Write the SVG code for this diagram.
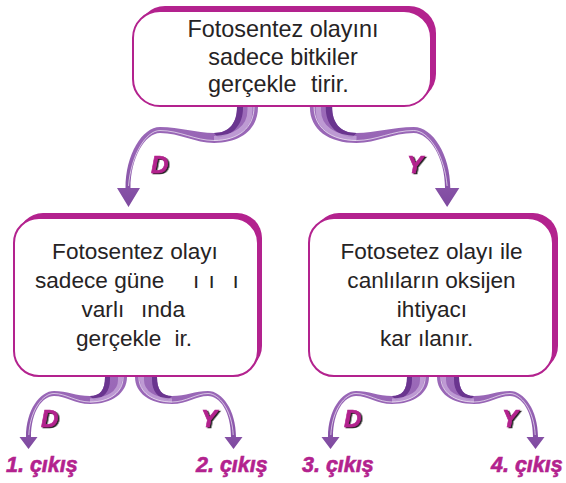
<svg xmlns="http://www.w3.org/2000/svg" width="566" height="483" viewBox="0 0 566 483">
<defs>
<style>
.box{fill:#fff;stroke:#b3228e;stroke-width:2}
.shadow{fill:#b3228e}
.t{font-family:"Liberation Sans",Arial,sans-serif;fill:#262324}
.tt{font-size:23.4px}
.bt{font-size:22.6px}
.lab{font-family:"Liberation Sans",Arial,sans-serif;font-weight:bold;font-style:italic;fill:#b3228e;stroke:#b3228e;stroke-width:0.6}
.dy{font-size:24px;filter:url(#sh)}
.out{font-size:21.5px}
.rib{fill:url(#ribG)}
.dark{fill:#6a358f}
.lite{fill:none;stroke:#c9abdc;opacity:0.75}
.hl{fill:none;stroke:#fff;stroke-width:0.9;opacity:0.7}
</style>
<linearGradient id="ribG" x1="0" y1="0" x2="0" y2="1">
<stop offset="0" stop-color="#9d6cba"/>
<stop offset="0.5" stop-color="#9663b4"/>
<stop offset="1" stop-color="#7e499f"/>
</linearGradient>
<filter id="sh" x="-20%" y="-20%" width="150%" height="150%">
<feDropShadow dx="1.5" dy="1" stdDeviation="0.2" flood-color="#1a1a1a"/>
</filter>
<g id="bigArrow">
<path class="rib" d="M258,100 L258,107 C258,130 240,143 214,143 C195,143 180,133 160,133 C145,133 130.5,158 130.5,188 L140,188 L128.5,207 L117,188 L125.5,188 C125.5,155 142,127 160,127 C180,127 196,133 214,133 C230,133 237,122 237,107 L237,100 Z"/>
<path class="dark" d="M237,100 L243,100 L243,108 C243,124 234,135 218,137.5 L214,133 C230,133 237,122 237,107 Z"/>
<path class="lite" stroke-width="5" d="M250,100 L250,110 C250,128 235,138 214,138.5"/>
<path class="hl" d="M254,100 L254,107 C254,128 238,140.5 214,140.5 C195,140.5 180,130.5 160,130.5 C146,130.5 131,155 128.5,186"/>
</g>
<g id="smallArrow">
<path class="rib" d="M127,370 L127,377 C127,393 112,404 90,404 C75,404 66,396 54,396 C42,396 31,412 31,437 L37.5,437 L28.5,449 L19.5,437 L26,437 C26,410 40,391 54,391 C67,391 76,396 90,396 C100,396 105,390 105,377 L105,370 Z"/>
<path class="dark" d="M105,370 L110,370 L110,380 C110,391 104,398 94,400 L90,396 C100,396 105,390 105,377 Z"/>
<path class="lite" stroke-width="4" d="M120,370 L120,380 C120,393 107,400 90,400.5"/>
<path class="hl" d="M123,370 L123,378 C123,392 110,402 90,402 C76,402 66,393.5 54,393.5 C43,393.5 30,410 28.8,435"/>
</g>
</defs>

<g id="connectors">
<use href="#bigArrow"/>
<use href="#bigArrow" transform="translate(321,0) scale(-1.06,1) translate(-247.5,0)"/>
<use href="#smallArrow"/>
<use href="#smallArrow" transform="translate(262,0) scale(-1,1)"/>
<use href="#smallArrow" transform="translate(302,0)"/>
<use href="#smallArrow" transform="translate(564,0) scale(-1,1)"/>
</g>

<g id="labels">
<text class="lab dy" x="151" y="173">D</text>
<text class="lab dy" x="407" y="173">Y</text>
<text class="lab dy" x="41" y="427">D</text>
<text class="lab dy" x="201" y="427">Y</text>
<text class="lab dy" x="344" y="427">D</text>
<text class="lab dy" x="502" y="427">Y</text>
</g>

<g id="node-top">
<rect class="shadow" x="138" y="6" width="298" height="95" rx="27"/>
<rect class="box" x="133" y="11" width="298" height="95" rx="27"/>
<text class="t tt" x="283" y="37" text-anchor="middle">Fotosentez olayını</text>
<text class="t tt" x="283" y="65" text-anchor="middle">sadece bitkiler</text>
<text class="t tt" y="92"><tspan x="208">gerçekle</tspan><tspan x="311">tirir.</tspan></text>
</g>

<g id="node-left">
<rect class="shadow" x="18" y="213" width="244" height="158" rx="25"/>
<rect class="box" x="14" y="218" width="244" height="158" rx="25"/>
<text class="t bt" x="135" y="259" text-anchor="middle">Fotosentez olayı</text>
<text class="t bt" y="288"><tspan x="35">sadece güne</tspan><tspan x="193">ı</tspan><tspan x="208.5">ı</tspan><tspan x="232.5">ı</tspan></text>
<text class="t bt" y="317"><tspan x="81.5">varlı</tspan><tspan x="141">ında</tspan></text>
<text class="t bt" y="346"><tspan x="76">gerçekle</tspan><tspan x="174.5">ir.</tspan></text>
</g>

<g id="node-right">
<rect class="shadow" x="314" y="213" width="244" height="158" rx="25"/>
<rect class="box" x="309" y="218" width="244" height="158" rx="25"/>
<text class="t bt" x="431.5" y="259" text-anchor="middle">Fotosetez olayı ile</text>
<text class="t bt" x="431.5" y="288" text-anchor="middle">canlıların oksijen</text>
<text class="t bt" x="432" y="317" text-anchor="middle">ihtiyacı</text>
<text class="t bt" y="346"><tspan x="380">kar</tspan><tspan x="418">ılanır.</tspan></text>
</g>

<g id="out-1"><text class="lab out" x="6" y="472">1. çıkış</text></g>
<g id="out-2"><text class="lab out" x="196" y="472">2. çıkış</text></g>
<g id="out-3"><text class="lab out" x="302" y="472">3. çıkış</text></g>
<g id="out-4"><text class="lab out" x="491" y="472">4. çıkış</text></g>
</svg>
